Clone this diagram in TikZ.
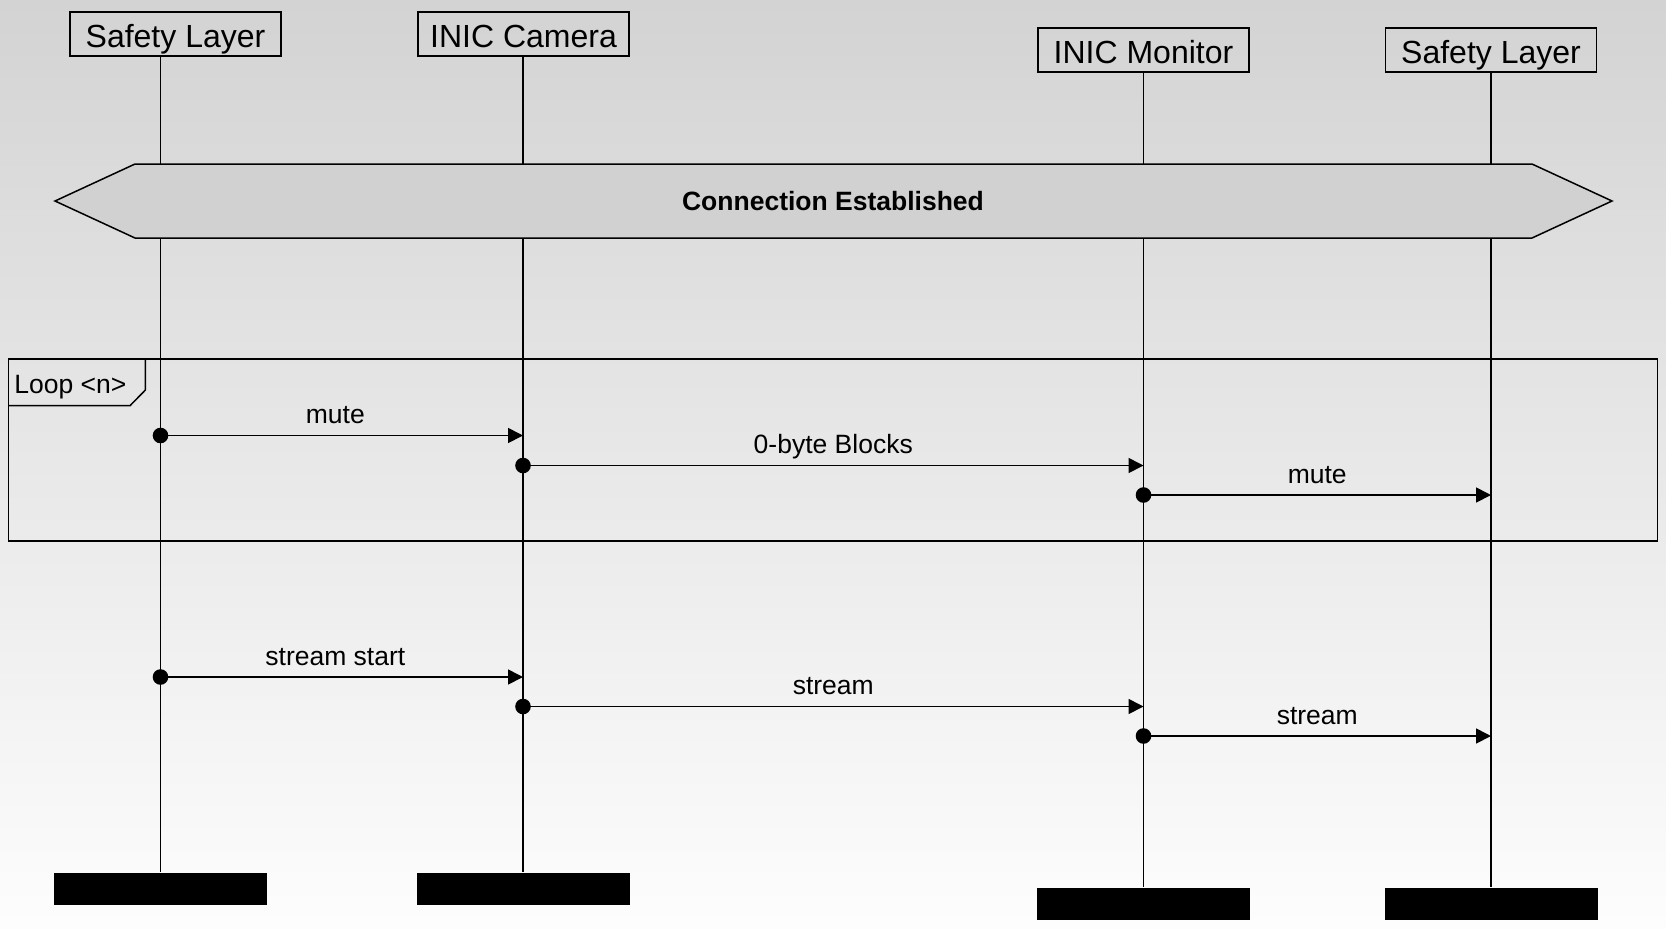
\documentclass[tikz,border=0pt]{standalone}
\usepackage{fontspec}
\setmainfont{Liberation Sans}
\usetikzlibrary{arrows.meta}
\begin{document}
\begin{tikzpicture}[x=0.5pt,y=-0.5pt,
  hdr/.style={draw=black,line width=0.75pt,minimum width=105.5pt,minimum height=22pt,inner sep=0pt,text height=13.3pt,text depth=0pt,font=\fontsize{16}{18}\selectfont},
  endblk/.style={fill=black,draw=none,minimum width=106.5pt,minimum height=16.2pt,inner sep=0pt},
  life/.style={line width=0.75pt},
  msg/.style={line width=0.85pt,-{Triangle[length=7.5pt,width=7.5pt]}},
  lbl/.style={font=\fontsize{13.25}{15}\selectfont,anchor=base,inner sep=0pt,yshift=5.8pt},
  dotmark/.style={fill=black}]
\useasboundingbox (0,0) rectangle (1666,928);
\shade[top color={rgb,255:red,211;green,211;blue,211},bottom color={rgb,255:red,253;green,253;blue,253}] (0,0) rectangle (1666,928);

% lifeline x positions
\coordinate (x1) at (160.5,0);
\coordinate (x2) at (523,0);
\coordinate (x3) at (1143.5,0);
\coordinate (x4) at (1491,0);

% headers
\node[hdr] (sl1) at (175.5,34) {Safety Layer};
\node[hdr] (cam) at (523.5,34) {INIC Camera};
\node[hdr] (mon) at (1143.5,50) {INIC Monitor};
\node[hdr] (sl2) at (1491,50) {Safety Layer};

% end blocks
\node[endblk] (e1) at (160.5,889) {};
\node[endblk] (e2) at (523,889) {};
\node[endblk] (e3) at (1143.5,904) {};
\node[endblk] (e4) at (1491,904) {};

% lifelines
\draw[life] (sl1.south -| x1) -- (e1.north);
\draw[life] (cam.south -| x2) -- (e2.north);
\draw[life] (mon.south -| x3) -- (e3.north);
\draw[life] (sl2.south -| x4) -- (e4.north);

% connection established
\draw[line width=0.75pt,fill={rgb,255:red,209;green,209;blue,209}]
  (55,201) -- (135,164) -- (1532,164) -- (1612,201) -- (1532,238) -- (135,238) -- cycle;
\node[font=\bfseries\fontsize{13.25}{15}\selectfont] (conn) at (833,201) {Connection Established};

% loop frame
\draw[line width=0.75pt] (8.5,359) rectangle (1657.5,541);
\draw[line width=0.75pt] (8.5,405.7) -- (130,405.7) -- (145.4,390) -- (145.4,359);
\node[font=\fontsize{13.25}{15}\selectfont,anchor=base west,inner sep=0pt] (loop) at (14,393) {Loop <n>};

% message coordinates
\coordinate (a1) at (160.5,435.5); \coordinate (b1) at (523,435.5);
\coordinate (a2) at (523,465.5);   \coordinate (b2) at (1143.5,465.5);
\coordinate (a3) at (1143.5,495);  \coordinate (b3) at (1491,495);
\coordinate (a4) at (160.5,677);   \coordinate (b4) at (523,677);
\coordinate (a5) at (523,706.5);   \coordinate (b5) at (1143.5,706.5);
\coordinate (a6) at (1143.5,736);  \coordinate (b6) at (1491,736);

\draw[msg] (a1) -- node[lbl,midway,xshift=-3.2pt] (l1) {mute} (b1);
\draw[msg] (a2) -- node[lbl,midway] (l2) {0-byte Blocks} (b2);
\draw[msg] (a3) -- node[lbl,midway] (l3) {mute} (b3);
\draw[msg] (a4) -- node[lbl,midway,xshift=-3.2pt] (l4) {stream start} (b4);
\draw[msg] (a5) -- node[lbl,midway] (l5) {stream} (b5);
\draw[msg] (a6) -- node[lbl,midway] (l6) {stream} (b6);

\foreach \p in {a1,a2,a3,a4,a5,a6} \fill[dotmark] (\p) circle (3.9pt);
\end{tikzpicture}
\end{document}
